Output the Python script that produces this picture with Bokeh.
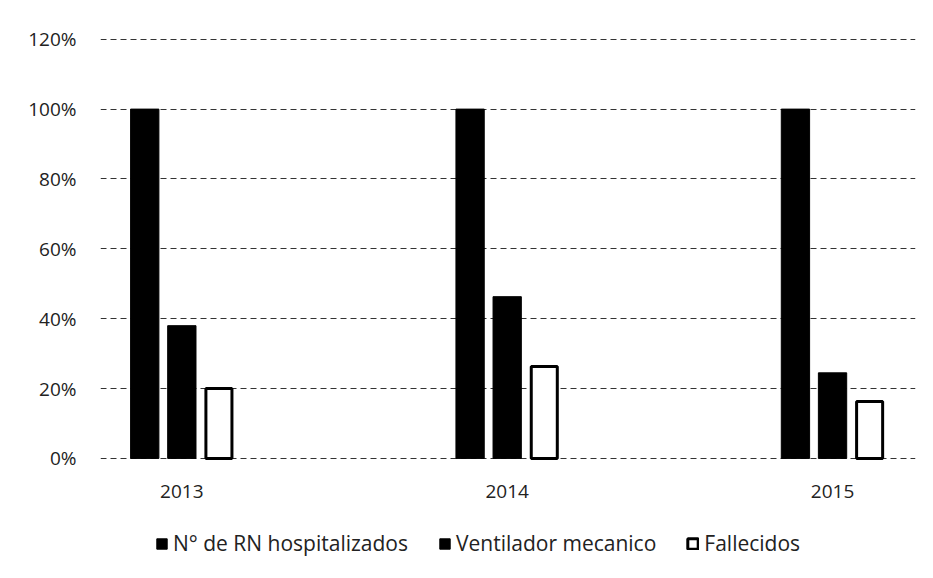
from bokeh.plotting import figure
from bokeh.models import FixedTicker, NumeralTickFormatter, Legend, LegendItem, Range1d, ColumnDataSource
from bokeh.core.properties import value
from bokeh.embed import file_html
from bokeh.resources import INLINE

years = ["2013", "2014", "2015"]
hospitalizados = [1.00, 1.00, 1.00]
ventilador = [0.38, 0.463, 0.245]
fallecidos = [0.20, 0.263, 0.163]
series_names = ["N° de RN hospitalizados", "Ventilador mecanico", "Fallecidos"]
y_ticks = [0, 0.2, 0.4, 0.6, 0.8, 1.0, 1.2]

FONT = "Open Sans"

p = figure(width=925, height=570, output_backend="svg", toolbar_location=None,
           x_range=Range1d(-0.25, 2.255), y_range=Range1d(-0.298, 1.205),
           min_border_left=100, min_border_right=10, min_border_top=37, min_border_bottom=8)

xs = list(range(len(years)))
off = 0.114
w = 0.087
r1 = p.vbar(x=[x - off for x in xs], top=hospitalizados, bottom=0, width=w, fill_color="black", line_color="black")
r2 = p.vbar(x=xs, top=ventilador, bottom=0, width=w, fill_color="black", line_color="black")
r3 = p.vbar(x=[x + off for x in xs], top=fallecidos, bottom=0, width=w * 0.92, fill_color="white",
            line_color="black", line_width=3)

# category labels under the groups
lab_src = ColumnDataSource(dict(x=xs, y=[-0.094] * len(xs), t=years))
p.text(x="x", y="y", text="t", source=lab_src, text_align="center", text_baseline="middle",
       text_font=value(FONT), text_font_size="19px", text_color="#222222")

p.xaxis.visible = False
p.yaxis.ticker = FixedTicker(ticks=y_ticks)
p.yaxis.formatter = NumeralTickFormatter(format="0%")
p.yaxis.axis_line_color = None
p.yaxis.major_tick_line_color = None
p.yaxis.minor_tick_line_color = None
p.yaxis.major_label_text_font = FONT
p.yaxis.major_label_text_font_size = "19px"
p.yaxis.major_label_text_color = "#222222"
p.yaxis.major_label_standoff = 18

p.xgrid.grid_line_color = None
p.ygrid.ticker = FixedTicker(ticks=y_ticks)
p.ygrid.grid_line_color = "#333333"
p.ygrid.grid_line_dash = "6 4"
p.ygrid.grid_line_width = 1
p.outline_line_color = None

legend = Legend(items=[LegendItem(label=series_names[0], renderers=[r1]),
                       LegendItem(label=series_names[1], renderers=[r2]),
                       LegendItem(label=series_names[2], renderers=[r3])],
                orientation="horizontal", location=(55, 5),
                label_text_font=FONT, label_text_font_size="21px", label_text_color="#222222",
                glyph_width=13, glyph_height=13, spacing=30, label_standoff=5,
                border_line_color=None, background_fill_alpha=0, margin=0, padding=4)
p.add_layout(legend, "center")

open("out.html", "w").write(file_html(p, INLINE))
